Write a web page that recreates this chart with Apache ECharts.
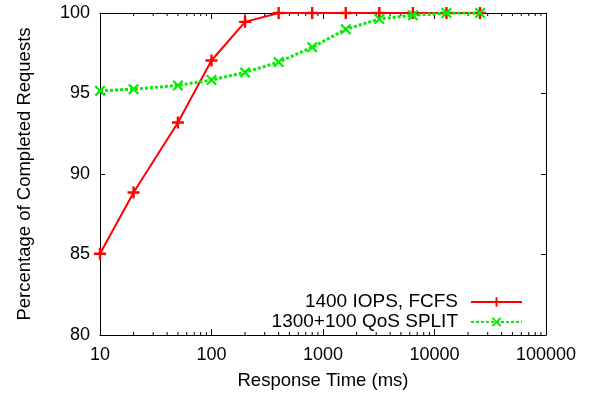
<!DOCTYPE html>
<html>
<head>
<meta charset="utf-8">
<script src="https://cdn.jsdelivr.net/npm/echarts@6/dist/echarts.min.js"></script>
<style>html,body{margin:0;padding:0;background:#fff;}#c{width:592px;height:399px;}</style>
</head>
<body>
<div id="c"></div>
<script>
var responseTimes = [10, 20, 50, 100, 200, 400, 800, 1600, 3200, 6400, 12800, 25600];
var fcfsValues = [85.05, 88.85, 93.2, 97.05, 99.45, 100, 100, 100, 100, 100, 100, 100];
var splitValues = [95.17, 95.27, 95.5, 95.84, 96.31, 96.95, 97.87, 98.99, 99.63, 99.86, 100, 100];
var seriesNames = ['1400 IOPS, FCFS', '1300+100 QoS SPLIT'];
var xTickLabels = ['10', '100', '1000', '10000', '100000'];
var yTicks = [80, 85, 90, 95, 100];
var minorTicks = [20,30,40,50,60,70,80,90,200,300,400,500,600,700,800,900,2000,3000,4000,5000,6000,7000,8000,9000,20000,30000,40000,50000,60000,70000,80000,90000];

var FONT = 'Liberation Sans, Arial, Helvetica, sans-serif';
var plusPath = 'path://M4,0H6V4H10V6H6V10H4V6H0V4H4Z';
var crossPath = 'path://M0,1.4L1.4,0L5,3.6L8.6,0L10,1.4L6.4,5L10,8.6L8.6,10L5,6.4L1.4,10L0,8.6L3.6,5Z';

function zip(xs, ys) { return xs.map(function (x, i) { return [x, ys[i]]; }); }

var chart = echarts.init(document.getElementById('c'), null, {renderer: 'canvas'});
var axisLine = {show: true, lineStyle: {color: '#000', width: 1}};
chart.setOption({
  animation: false,
  backgroundColor: '#fff',
  grid: {left: 100, right: 46, top: 13, bottom: 64},
  xAxis: [{
    type: 'log', logBase: 10, min: 10, max: 100000, position: 'bottom',
    name: 'Response Time (ms)', nameLocation: 'middle', nameGap: 36,
    nameTextStyle: {fontFamily: FONT, fontSize: 18.5, color: '#000'},
    axisLine: axisLine,
    axisTick: {show: true, inside: true, length: 6, lineStyle: {color: '#000'}},
    axisLabel: {fontFamily: FONT, fontSize: 18, color: '#000', margin: 11,
      formatter: function (v) { return xTickLabels[Math.round(Math.log10(v)) - 1]; }},
    splitLine: {show: false}
  }, {
    type: 'log', logBase: 10, min: 10, max: 100000, position: 'top',
    axisLine: axisLine,
    axisTick: {show: true, inside: true, length: 6, lineStyle: {color: '#000'}},
    axisLabel: {show: false}, splitLine: {show: false}
  }],
  yAxis: [{
    type: 'value', min: yTicks[0], max: yTicks[yTicks.length - 1], interval: 5, position: 'left',
    name: 'Percentage of Completed Requests', nameLocation: 'middle', nameGap: 66,
    nameTextStyle: {fontFamily: FONT, fontSize: 18.5, color: '#000'},
    axisLine: axisLine,
    axisTick: {show: true, inside: true, length: 5, lineStyle: {color: '#000'}},
    axisLabel: {fontFamily: FONT, fontSize: 18, color: '#000', margin: 10},
    splitLine: {show: false}
  }, {
    type: 'value', min: yTicks[0], max: yTicks[yTicks.length - 1], interval: 5, position: 'right',
    axisLine: axisLine,
    axisTick: {show: true, inside: true, length: 5, lineStyle: {color: '#000'}},
    axisLabel: {show: false}, splitLine: {show: false}
  }],
  legend: {
    data: seriesNames, orient: 'vertical', align: 'right', padding: 0,
    right: 69, top: 292, itemWidth: 51, itemHeight: 12, itemGap: 0,
    textStyle: {fontFamily: FONT, fontSize: 19, color: '#000', lineHeight: 20, padding: [0, 8, 0, 0]}
  },
  series: [{
    type: 'custom', silent: true, xAxisIndex: 0, yAxisIndex: 0, clip: false,
    data: minorTicks.map(function (v) { return [v, yTicks[0]]; }),
    renderItem: function (params, api) {
      var v = api.value(0);
      var b = api.coord([v, yTicks[0]]);
      var t = api.coord([v, yTicks[yTicks.length - 1]]);
      return {type: 'group', children: [
        {type: 'line', shape: {x1: b[0], y1: b[1], x2: b[0], y2: b[1] - 3}, style: {stroke: '#000', lineWidth: 1}},
        {type: 'line', shape: {x1: t[0], y1: t[1], x2: t[0], y2: t[1] + 3}, style: {stroke: '#000', lineWidth: 1}}
      ]};
    }
  }, {
    name: seriesNames[0], type: 'line', data: zip(responseTimes, fcfsValues),
    symbol: plusPath, symbolSize: 12, showSymbol: true,
    lineStyle: {color: '#ff0000', width: 2},
    itemStyle: {color: '#ff0000'}, z: 3
  }, {
    name: seriesNames[1], type: 'line', data: zip(responseTimes, splitValues),
    symbol: crossPath, symbolSize: 11, showSymbol: true,
    lineStyle: {color: '#00ee00', width: 3, type: [3, 2]},
    itemStyle: {color: '#00ee00'}, z: 4
  }]
});
</script>
</body>
</html>
